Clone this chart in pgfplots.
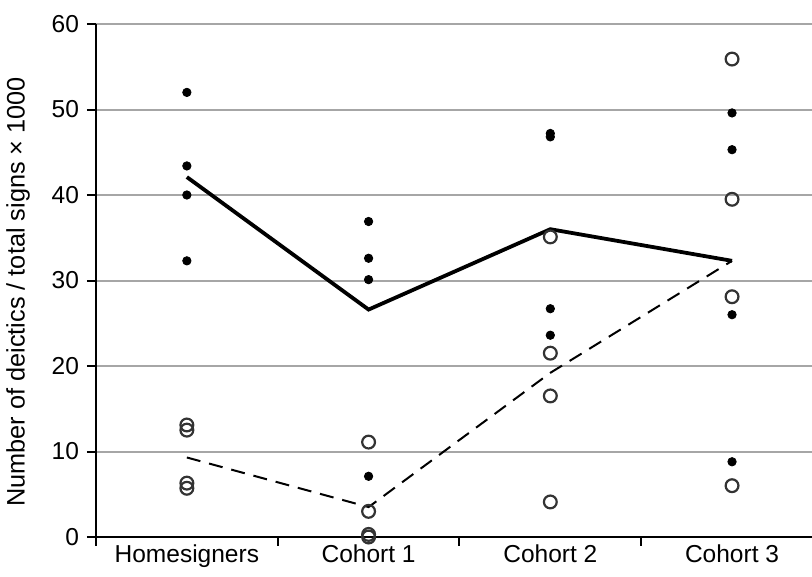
\documentclass[border=0pt]{standalone}
\usepackage{pgfplots}
\pgfplotsset{compat=1.18}
\usepackage{fontspec}
\setmainfont{Liberation Sans}
\begin{document}
\begin{tikzpicture}
\useasboundingbox (-48bp,-20bp) rectangle (358bp,268.5bp);
\begin{axis}[
  at={(0,0)}, anchor=south west,
  scale only axis,
  width=358bp, height=256.5bp,
  xmin=-0.5, xmax=3.44,
  ymin=0, ymax=60,
  axis x line*=bottom, axis y line*=left,
  axis line style={line width=1bp, -},
  xtick={-0.5,0.5,1.5,2.5},
  xticklabels={},
  extra x ticks={0,1,2,3},
  extra x tick labels={Homesigners,Cohort 1,Cohort 2,Cohort 3},
  extra x tick style={major tick length=0pt, grid=none},
  ytick={0,10,...,60},
  ymajorgrids,
  grid style={line width=1bp, color=black!35},
  major tick length=4.5bp,
  tick style={line width=1bp, black},
  tick align=outside,
  /pgf/number format/assume math mode=true,
  tick label style={font=\fontsize{12.3}{14}\selectfont},
  yticklabel style={xshift=-0.5bp},
  xticklabel style={yshift=-0.5bp},
  ylabel={Number of deictics / total signs × 1000},
  ylabel style={font=\fontsize{12.7}{14}\selectfont, at={(axis description cs:-0.0824,0.478)}, anchor=south, rotate=0},
  clip=false,
]
\addplot[black, line width=1.9bp] coordinates {(0,42.1) (1,26.6) (2,36.0) (3,32.3)};
\addplot[black, line width=1bp, dash pattern=on 7bp off 4.5bp] coordinates {(0,9.3) (1,3.5) (2,19.2) (3,32.3)};
\addplot[only marks, mark=*, mark size=2.1bp, mark options={black, fill=black}] coordinates {
(0,52.0) (0,43.4) (0,40.0) (0,32.3)
(1,36.9) (1,32.6) (1,30.1) (1,7.1)
(2,47.2) (2,46.8) (2,26.7) (2,23.6)
(3,49.6) (3,45.3) (3,26.0) (3,8.8)};
\addplot[only marks, mark=o, mark size=3.2bp, mark options={draw=black!80, line width=1.1bp, fill=none}] coordinates {
(0,13.1) (0,12.5) (0,6.3) (0,5.7)
(1,11.1) (1,3.0) (1,0.3) (1,0.0)
(2,35.1) (2,21.5) (2,16.5) (2,4.1)
(3,55.9) (3,39.5) (3,28.1) (3,6.0)};
\end{axis}
\end{tikzpicture}
\end{document}
